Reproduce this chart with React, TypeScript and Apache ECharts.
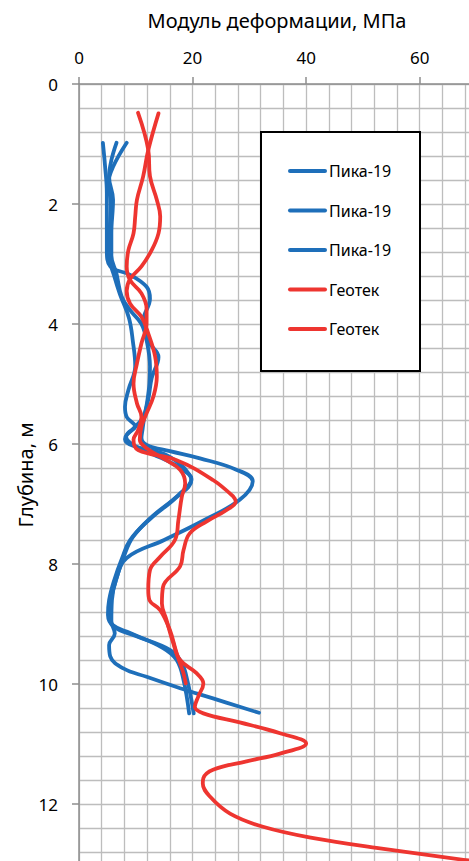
import React, { useEffect, useRef } from "react";
import * as echarts from "echarts";

// Depth profiles: [modulus (MPa), depth (m)]
const pika1: [number, number][] = [
  [4.2, 0.98], [4.6, 1.38], [4.9, 1.82], [4.9, 2.38], [4.9, 2.77], [5.5, 3.04], [9, 3.18], [11.9, 3.38],
  [12.5, 3.58], [11.3, 3.95], [12.3, 4.3], [14, 4.55], [12.8, 4.9], [12.2, 5.25], [11.3, 5.55], [9.5, 5.75],
  [8.3, 5.88], [9.6, 6.02], [13, 6.17], [17, 6.35], [19.3, 6.5], [19.8, 6.58], [17.5, 6.85], [13, 7.2],
  [9.5, 7.55], [7.8, 7.9], [6.5, 8.27], [5.6, 8.6], [5.3, 8.85], [6, 9.02], [9, 9.15], [14.8, 9.4],
  [17.2, 9.6], [18.4, 9.93], [19.4, 10.49],
];
const pika2: [number, number][] = [
  [6.6, 0.98], [5.7, 1.27], [5.3, 1.55], [6.0, 1.93], [5.7, 2.49], [5.7, 2.86], [6.6, 3.16], [7.5, 3.54],
  [9, 3.77], [11, 4.0], [11.9, 4.27], [12.5, 4.71], [12.4, 5.0], [12, 5.3], [11.5, 5.55], [11.2, 5.75],
  [11, 5.9], [12, 6.02], [16, 6.12], [21.3, 6.24], [27.5, 6.42], [30.6, 6.62], [28.3, 6.93], [22, 7.27],
  [15, 7.6], [8.4, 7.9], [6.5, 8.27], [5.8, 8.6], [5.7, 8.95], [6.3, 9.16], [5.3, 9.35], [5.5, 9.54],
  [7.8, 9.74], [11.9, 9.88], [17.8, 10.07], [23.6, 10.24], [28.3, 10.38], [31.7, 10.48],
];
const pika3: [number, number][] = [
  [8.4, 0.98], [6, 1.38], [5.2, 1.65], [5.6, 2.0], [5.4, 2.5], [5.4, 2.9], [6.2, 3.2], [7.2, 3.5],
  [8.8, 3.9], [9.5, 4.3], [9.9, 4.7], [8.7, 5.1], [8.1, 5.38], [8.4, 5.55], [9.9, 5.71], [8.6, 5.82],
  [8.1, 5.92], [9.5, 6.03], [14.8, 6.16], [18, 6.35], [19.5, 6.52], [19.8, 6.6], [17, 6.9], [12.5, 7.25],
  [9, 7.6], [7.6, 7.9], [6.2, 8.27], [5.3, 8.6], [5.1, 8.85], [6.2, 9.05], [10, 9.2], [16, 9.43],
  [18, 9.63], [19.1, 9.95], [20.2, 10.49],
];
const geotek1: [number, number][] = [
  [10.4, 0.48], [12.2, 1.1], [12.5, 1.54], [13.7, 1.93], [14.3, 2.21], [14.0, 2.49], [12.8, 2.77], [11, 3.04],
  [9, 3.25], [8.4, 3.45], [9, 3.66], [11, 3.88], [12.2, 4.16], [13.4, 4.54], [13.7, 4.88], [13.1, 5.21],
  [11.9, 5.49], [11, 5.71], [10.7, 5.93], [11.9, 6.07], [15, 6.25], [17.8, 6.43], [18.7, 6.66], [18.1, 6.88],
  [17.5, 7.27], [16.9, 7.6], [14.3, 7.88], [12.5, 8.1], [12.2, 8.43], [12.4, 8.6], [14.3, 8.77], [16, 9.1],
  [17.2, 9.49], [18.4, 9.82], [18.8, 9.99],
];
const geotek2: [number, number][] = [
  [14.0, 0.49], [12.2, 1.1], [11.3, 1.54], [10.2, 1.93], [9.9, 2.21], [9.6, 2.49], [8.7, 2.77], [8.4, 3.04],
  [9, 3.27], [11, 3.49], [11.9, 3.75], [11.9, 3.99], [11, 4.32], [10.2, 4.66], [9.6, 4.99], [10.2, 5.32],
  [11, 5.55], [10.4, 5.77], [9.6, 5.93], [10.4, 6.1], [17.2, 6.27], [23.6, 6.6], [27.2, 6.88], [27.6, 6.96],
  [26, 7.1], [22.5, 7.29], [19.5, 7.49], [18.4, 7.77], [17.8, 8.04], [14.8, 8.38], [14.6, 8.66], [15.4, 8.93],
  [16.6, 9.32], [17.8, 9.6], [20.7, 9.82], [21.9, 9.99], [21, 10.21], [20.4, 10.38], [21.9, 10.49], [28.3, 10.64],
  [35.4, 10.82], [40, 10.99], [35.4, 11.16], [29.5, 11.29], [23.6, 11.43], [21.9, 11.57], [21.8, 11.66], [23.1, 11.88],
  [26.6, 12.16], [32.4, 12.38], [41.3, 12.57], [53, 12.74], [67.7, 12.93], [72, 12.98],
];

const seriesNames = ["Пика-19", "Пика-19", "Пика-19", "Геотек", "Геотек"];
const seriesData = [pika1, pika2, pika3, geotek1, geotek2];
const xAxisTitle = "Модуль деформации, МПа";
const yAxisTitle = "Глубина, м";

const BLUE = "#1E6FBA";
const RED = "#EE3530";
const seriesColors = [BLUE, BLUE, BLUE, RED, RED];

export default function App() {
  const ref = useRef<HTMLDivElement>(null);
  useEffect(() => {
    document.body.style.margin = "0";
    if (!ref.current) return;
    const chart = echarts.init(ref.current, undefined, { renderer: "svg" });
    const font = "'Noto Sans', sans-serif";
    const axisLine = { show: true, lineStyle: { color: "#8E8E8E", width: 1.5 } };
    const split = { show: true, lineStyle: { color: "#BDBDBD", width: 1.3 } };
    const legendTop = 171;
    const legendGap = 39.5;
    const legendGraphics: any[] = [
      {
        type: "rect",
        shape: { x: 261, y: 132, width: 159, height: 239 },
        style: { fill: "#fff", stroke: "#000", lineWidth: 2 },
        z: 100,
      },
    ];
    seriesNames.forEach((n, i) => {
      const y = legendTop + i * legendGap;
      legendGraphics.push({
        type: "line",
        shape: { x1: 290, y1: y, x2: 325, y2: y },
        style: { stroke: seriesColors[i], lineWidth: 4, lineCap: "round" },
        z: 101,
      });
      legendGraphics.push({
        type: "text",
        x: 329,
        y: y,
        style: { text: n, fontSize: 16, fontFamily: font, fill: "#000", textVerticalAlign: "middle" },
        z: 101,
      });
    });
    chart.setOption({
      animation: false,
      backgroundColor: "#fff",
      grid: { left: 79, top: 84, width: 397.5, height: 840, containLabel: false, outerBoundsMode: "none" },
      xAxis: {
        type: "value",
        position: "top",
        min: 0,
        max: 70,
        interval: 20,
        axisLine,
        axisTick: { show: true, length: 7, inside: false, lineStyle: { color: "#8E8E8E", width: 1.5 } },
        axisLabel: { color: "#000", fontSize: 17, fontFamily: font, margin: 18, showMaxLabel: false },
        splitLine: split,
        minorTick: { show: false, splitNumber: 5 },
        minorSplitLine: split,
      },
      yAxis: {
        type: "value",
        inverse: true,
        min: 0,
        max: 14,
        interval: 2,
        axisLine,
        axisTick: { show: true, length: 7, inside: false, lineStyle: { color: "#8E8E8E", width: 1.5 } },
        axisLabel: { color: "#000", fontSize: 17, fontFamily: font, margin: 21, showMaxLabel: false },
        splitLine: split,
        minorTick: { show: false, splitNumber: 5 },
        minorSplitLine: split,
      },
      graphic: [
        {
          type: "text",
          x: 277,
          y: 20,
          style: { text: xAxisTitle, fontSize: 20, fontFamily: font, fill: "#000", textAlign: "center", textVerticalAlign: "middle" },
        },
        {
          type: "text",
          x: 25,
          y: 475,
          rotation: Math.PI / 2,
          style: { text: yAxisTitle, fontSize: 20, fontFamily: font, fill: "#000", textAlign: "center", textVerticalAlign: "middle" },
        },
        ...legendGraphics,
      ],
      series: seriesData.map((d, i) => ({
        type: "line",
        name: seriesNames[i],
        data: d,
        smooth: 0.4,
        symbol: "none",
        clip: true,
        lineStyle: { color: seriesColors[i], width: 3.8, cap: "round", join: "round" },
        z: 2 + i,
      })),
    });
    return () => chart.dispose();
  }, []);
  return <div ref={ref} style={{ width: 469, height: 861, overflow: "hidden" }} />;
}
